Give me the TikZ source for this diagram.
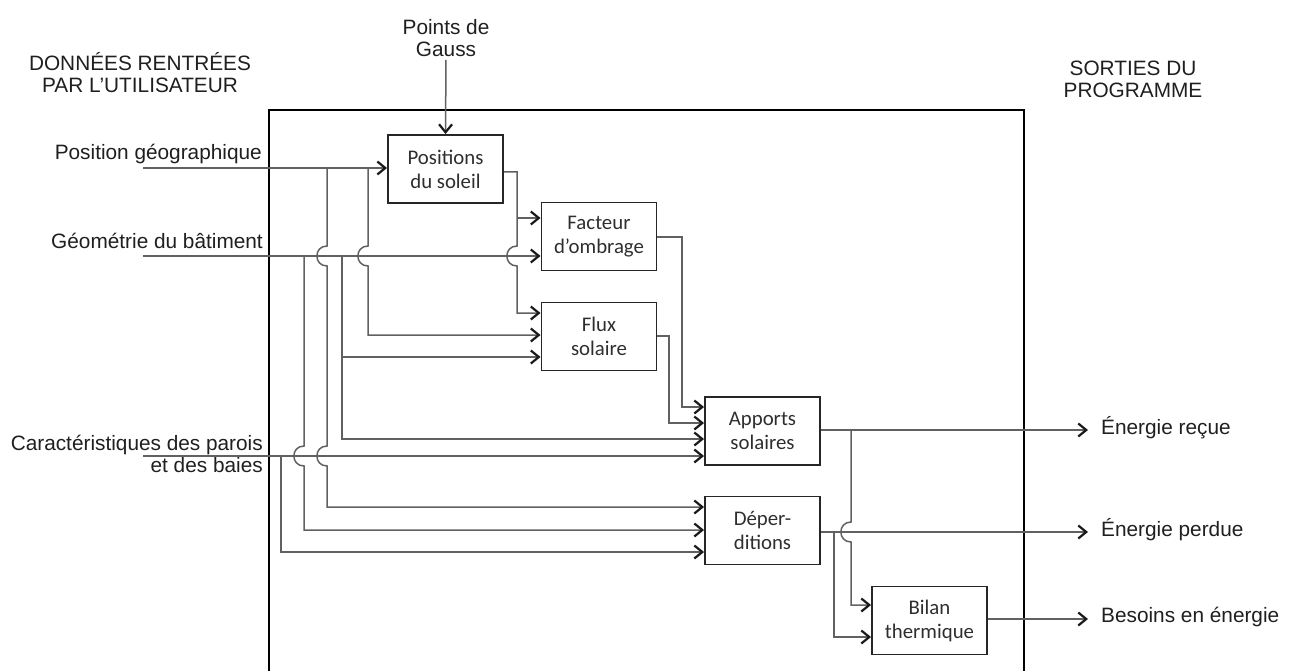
\documentclass[tikz,border=0pt]{standalone}
\usepackage{fontspec}
\setmainfont{Liberation Sans}
\newfontfamily\boxfont{Carlito}
\usetikzlibrary{arrows.meta}
\tikzset{
  wire/.style={draw=black!62, line width=1.5pt},
  arr/.style={-{Straight Barb[length=8pt,width=13pt,line width=2.2pt,color=black!90]}},
  frame/.style={draw=black, line width=2.6pt},
  blk/.style={draw=black!85, line width=1.9pt, minimum width=115pt, minimum height=68pt,
    inner sep=0pt, align=center, font=\boxfont\fontsize{20.8}{24}\selectfont, text=black!82},
  lbl/.style={inner sep=0pt, font=\fontsize{20.8}{22}\selectfont, text=black!88},
  hopv/.style 2 args={insert path={-- (#1,#2-10) .. controls (#1-13.5,#2-10) and (#1-13.5,#2+10) .. (#1,#2+10)}}
}
\begin{document}
\begin{tikzpicture}[x=1pt,y=-1pt]
\useasboundingbox (0,0) rectangle (1293,671);
% frame
\draw[frame] (269,671) -- (269,110) -- (1024,110) -- (1024,671);
% headings
\node[lbl, align=center] (hin) at (140,73) {DONNÉES RENTRÉES\\PAR L{\char"0027}UTILISATEUR};
\node[lbl, align=center] (hout) at (1133,79) {SORTIES DU\\PROGRAMME};
\node[lbl, align=center] (gauss) at (446,38) {Points de\\Gauss};
% input labels
\node[lbl, anchor=base east] (lPG) at (262,160) {Position géographique};
\node[lbl, anchor=base east] (lGB) at (263,248) {Géométrie du bâtiment};
\node[lbl, align=right, anchor=north east] (lCP) at (263,435) {Caractéristiques des parois\\et des baies};
% blocks
\node[blk] (pos) at (445.5,169) {Positions\\du soleil};
\node[blk] (fo) at (599,236.5) {Facteur\\d’ombrage};
\node[blk] (fs) at (599,336.5) {Flux\\solaire};
\node[blk] (ap) at (762.5,431) {Apports\\solaires};
\node[blk] (dp) at (762.5,530.5) {Déper-\\ditions};
\node[blk] (bt) at (929.5,620.5) {Bilan\\thermique};
% output labels
\node[lbl, anchor=mid west] (oER) at (1101,432) {Énergie reçue};
\node[lbl, anchor=mid west] (oEP) at (1101,534) {Énergie perdue};
\node[lbl, anchor=mid west] (oBE) at (1101,620) {Besoins en énergie};
% coordinates
\coordinate (inPG) at (143,168);
\coordinate (inGB) at (143,256);
\coordinate (inCP) at (143,456);
\coordinate (tER) at (1088,430);
\coordinate (tEP) at (1088,532);
\coordinate (tBE) at (1088,619);
\coordinate (jA) at (327,168);
\coordinate (jB) at (368,168);
\coordinate (jC) at (304,256);
\coordinate (jD) at (342,256);
\coordinate (jE) at (281,456);
\coordinate (jF) at (517,218);
\coordinate (jG) at (342,357);
\coordinate (jH) at (851,430);
\coordinate (jI) at (834,532);
% Points de Gauss
\draw[wire,arr,shorten <=3pt] (gauss.south) -- (pos.north);
% main input lines
\draw[wire,arr] (inPG) -- (pos.west |- inPG);
\draw[wire,arr] (inGB) -- (fo.west |- inGB);
\draw[wire,arr] (inCP) -- (ap.west |- inCP);
% verticals from position geo
\draw[wire,arr] (jA) [hopv={327}{256}] [hopv={327}{456}] -- (327,507) -- (dp.west |- 0,507);
\draw[wire,arr] (jB) [hopv={368}{256}] -- (368,335) -- (fs.west |- 0,335);
% verticals from geometry
\draw[wire,arr] (jC) [hopv={304}{456}] -- (304,530) -- (dp.west |- 0,530);
\draw[wire,arr] (jD) -- (342,439) -- (ap.west |- 0,439);
\draw[wire,arr] (jG) -- (fs.west |- jG);
% vertical from walls
\draw[wire,arr] (jE) -- (281,552) -- (dp.west |- 0,552);
% sun positions output
\draw[wire,arr] (pos.east |- 0,172) -- (517,172) [hopv={517}{256}] -- (517,313) -- (fs.west |- 0,313);
\draw[wire,arr] (jF) -- (fo.west |- jF);
% shading and flux outputs
\draw[wire,arr] (fo.east |- 0,237) -- (682,237) -- (682,407) -- (ap.west |- 0,407);
\draw[wire,arr] (fs.east |- 0,336) -- (669,336) -- (669,423) -- (ap.west |- 0,423);
% outputs
\draw[wire,arr] (ap.east |- tER) -- (tER);
\draw[wire,arr] (jH) [hopv={851}{532}] -- (851,605) -- (bt.west |- 0,605);
\draw[wire,arr] (dp.east |- tEP) -- (tEP);
\draw[wire,arr] (jI) -- (834,637) -- (bt.west |- 0,637);
\draw[wire,arr] (bt.east |- tBE) -- (tBE);
\end{tikzpicture}
\end{document}
